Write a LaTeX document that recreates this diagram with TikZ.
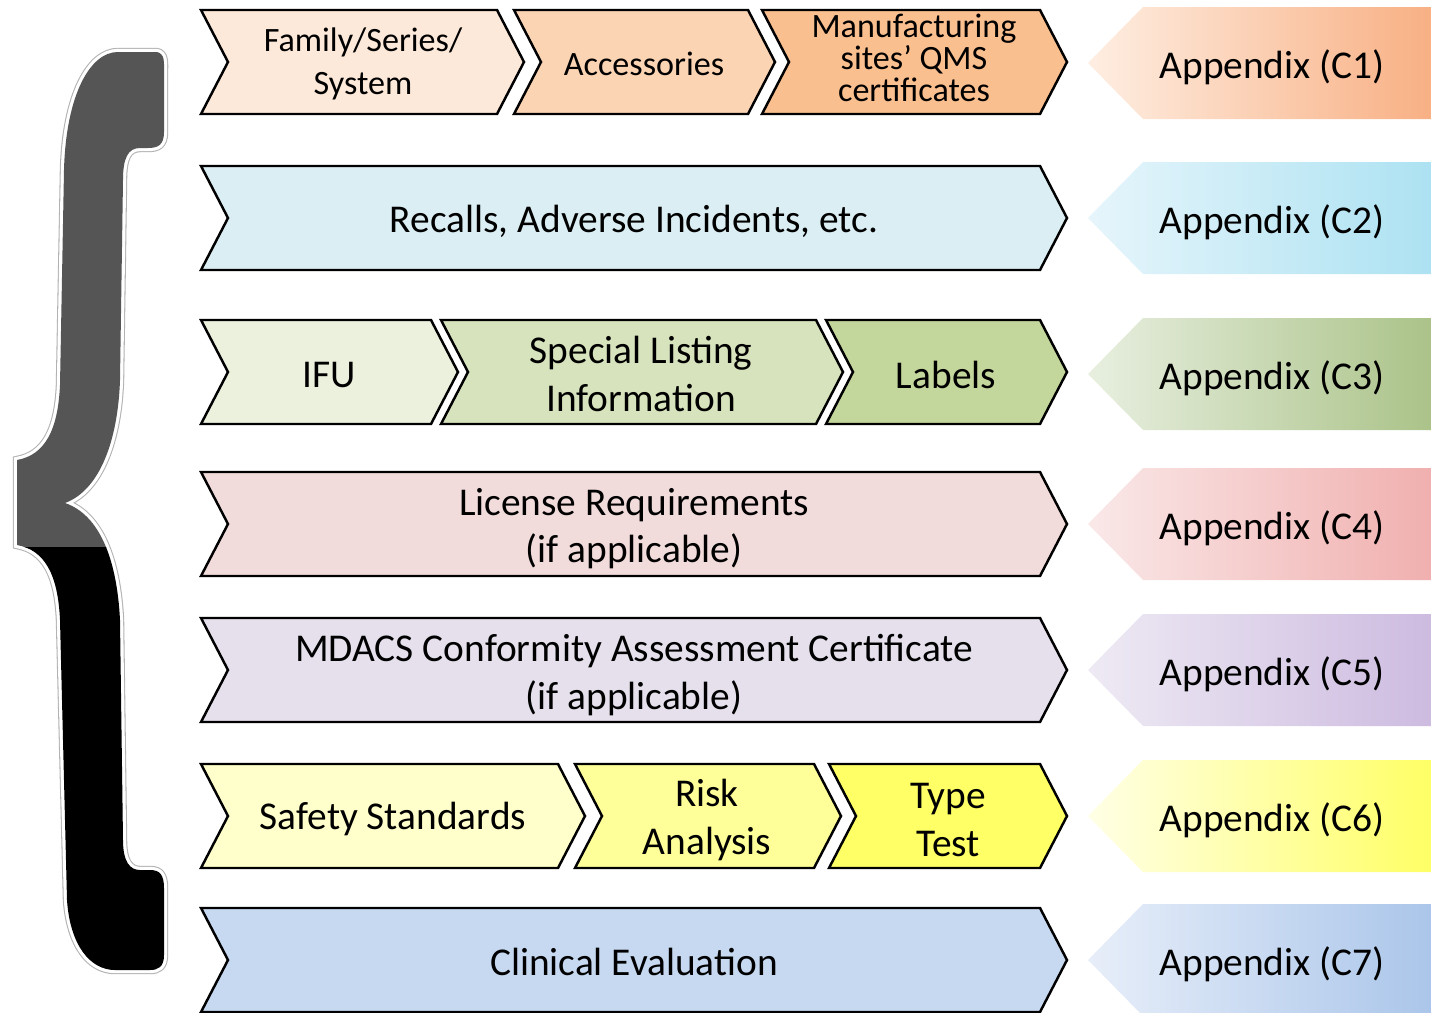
\documentclass[tikz,border=0pt]{standalone}
\usepackage{fontspec}
\setmainfont{Carlito}

\definecolor{famcol}{HTML}{FDE9D9}
\definecolor{acccol}{HTML}{FBD4B4}
\definecolor{qmscol}{HTML}{FABF8F}
\definecolor{reccol}{HTML}{DAEEF3}
\definecolor{ifucol}{HTML}{EBF1DD}
\definecolor{spccol}{HTML}{D7E3BC}
\definecolor{labcol}{HTML}{C3D69B}
\definecolor{liccol}{HTML}{F2DCDB}
\definecolor{mdacol}{HTML}{E5E0EC}
\definecolor{safcol}{HTML}{FFFFCC}
\definecolor{riscol}{HTML}{FFFF99}
\definecolor{typcol}{HTML}{FFFF66}
\definecolor{clicol}{HTML}{C6D9F1}
\definecolor{bracegray}{HTML}{555555}

% appendix gradients, left / right
\definecolor{aLa}{HTML}{FEEEE2}\definecolor{aRa}{HTML}{F8B084}
\definecolor{aLb}{HTML}{E6F5FB}\definecolor{aRb}{HTML}{ADE2F2}
\definecolor{aLc}{HTML}{E8EFE0}\definecolor{aRc}{HTML}{ABC389}
\definecolor{aLd}{HTML}{FAE8E8}\definecolor{aRd}{HTML}{F0B0AF}
\definecolor{aLe}{HTML}{EEEAF4}\definecolor{aRe}{HTML}{CDBBE0}
\definecolor{aLf}{HTML}{FFFFE6}\definecolor{aRf}{HTML}{FFFF66}
\definecolor{aLg}{HTML}{E7EEF9}\definecolor{aRg}{HTML}{ABC6EA}

\tikzset{
  chevbox/.style={draw=black, line width=0.7pt, line join=miter},
  lbl/.style={align=center, inner sep=0pt, font=\fontsize{11.2}{13.4}\selectfont},
  smalllbl/.style={lbl, font=\fontsize{9.7}{12}\selectfont},
  tinylbl/.style={lbl, font=\fontsize{9.7}{9.1}\selectfont},
}

\newcommand{\bracepath}{(157,52) .. controls (165,54) and (164,62) .. (164,72) -- (164,132)
  .. controls (164,145) and (158,148) .. (148,148) -- (140,148)
  .. controls (128,148) and (123,158) .. (123,180) -- (120,380)
  .. controls (118,440) and (100,490) .. (65,503)
  .. controls (100,515) and (117,560) .. (120,620) -- (123,840)
  .. controls (123,862) and (130,870) .. (140,870) -- (150,870)
  .. controls (160,870) and (164,875) .. (164,888) -- (164,955)
  .. controls (164,967) and (158,970) .. (150,970) -- (115,970)
  .. controls (90,970) and (70,945) .. (67,900) -- (60,620)
  .. controls (58,575) and (45,550) .. (17,545) -- (17,460)
  .. controls (45,455) and (58,430) .. (60,385) -- (64,170)
  .. controls (66,95) and (90,52) .. (118,52) -- cycle}

\begin{document}
\begin{tikzpicture}[x=0.01cm, y=-0.01cm]
  \useasboundingbox (0,0) rectangle (1431,1012);

  % the brace
  \draw[line width=2.4pt, black!30] \bracepath;
  \draw[line width=1.8pt, white] \bracepath;
  \begin{scope}
    \clip (0,0) rectangle (200,547);
    \fill[bracegray] \bracepath;
  \end{scope}
  \begin{scope}
    \clip (0,547) rectangle (200,1012);
    \fill[black] \bracepath;
  \end{scope}

  % chevrons: left x / right x / top y / colour
  \foreach \xa/\xb/\yt/\col in {201/497/10/famcol, 514/748/10/acccol, 762/1040/10/qmscol,
      201/1040/166/reccol,
      201/431/320/ifucol, 441/816/320/spccol, 826/1040/320/labcol,
      201/1040/472/liccol,
      201/1040/618/mdacol,
      201/558/764/safcol, 575/814/764/riscol, 829/1040/764/typcol,
      201/1040/908/clicol}
  {
    \draw[chevbox, fill=\col] (\xa,\yt) -- (\xb,\yt) -- (\xb+27,\yt+52) -- (\xb,\yt+104)
      -- (\xa,\yt+104) -- (\xa+27,\yt+52) -- cycle;
  }

  \node[smalllbl] (family) at (363,64) {Family/Series/\\System};
  \node[smalllbl] (access) at (644,64) {Accessories};
  \node[tinylbl] (qms) at (914,58) {Manufacturing\\sites’ QMS\\certificates};
  \node[lbl] (recalls) at (634,221) {Recalls, Adverse Incidents, etc.};
  \node[lbl] (ifu) at (329,375) {IFU};
  \node[lbl] (speclist) at (641,374) {Special Listing\\Information};
  \node[lbl] (labels) at (946,375) {Labels};
  \node[lbl] (license) at (634,529) {License Requirements\\(if applicable)};
  \node[lbl] (mdacs) at (634,675) {MDACS Conformity Assessment Certificate\\(if applicable)};
  \node[lbl] (safety) at (393,819) {Safety Standards};
  \node[lbl] (risk) at (707,820) {Risk\\Analysis};
  \node[lbl] (typetest) at (948,820) {Type\\Test};
  \node[lbl] (clinical) at (634,962) {Clinical Evaluation};

  % appendix tags
  \foreach \n/\yt/\cl/\cr in {1/7/aLa/aRa, 2/162/aLb/aRb, 3/318/aLc/aRc, 4/468/aLd/aRd,
      5/614/aLe/aRe, 6/760/aLf/aRf, 7/904/aLg/aRg}
  {
    \shade[left color=\cl, right color=\cr] (1431,\yt) -- (1143,\yt) -- (1088,\yt+56)
      -- (1143,\yt+112) -- (1431,\yt+112) -- cycle;
    \node[lbl] (appC\n) at (1272,\yt+60) {Appendix (C\n)};
  }
\end{tikzpicture}
\end{document}
